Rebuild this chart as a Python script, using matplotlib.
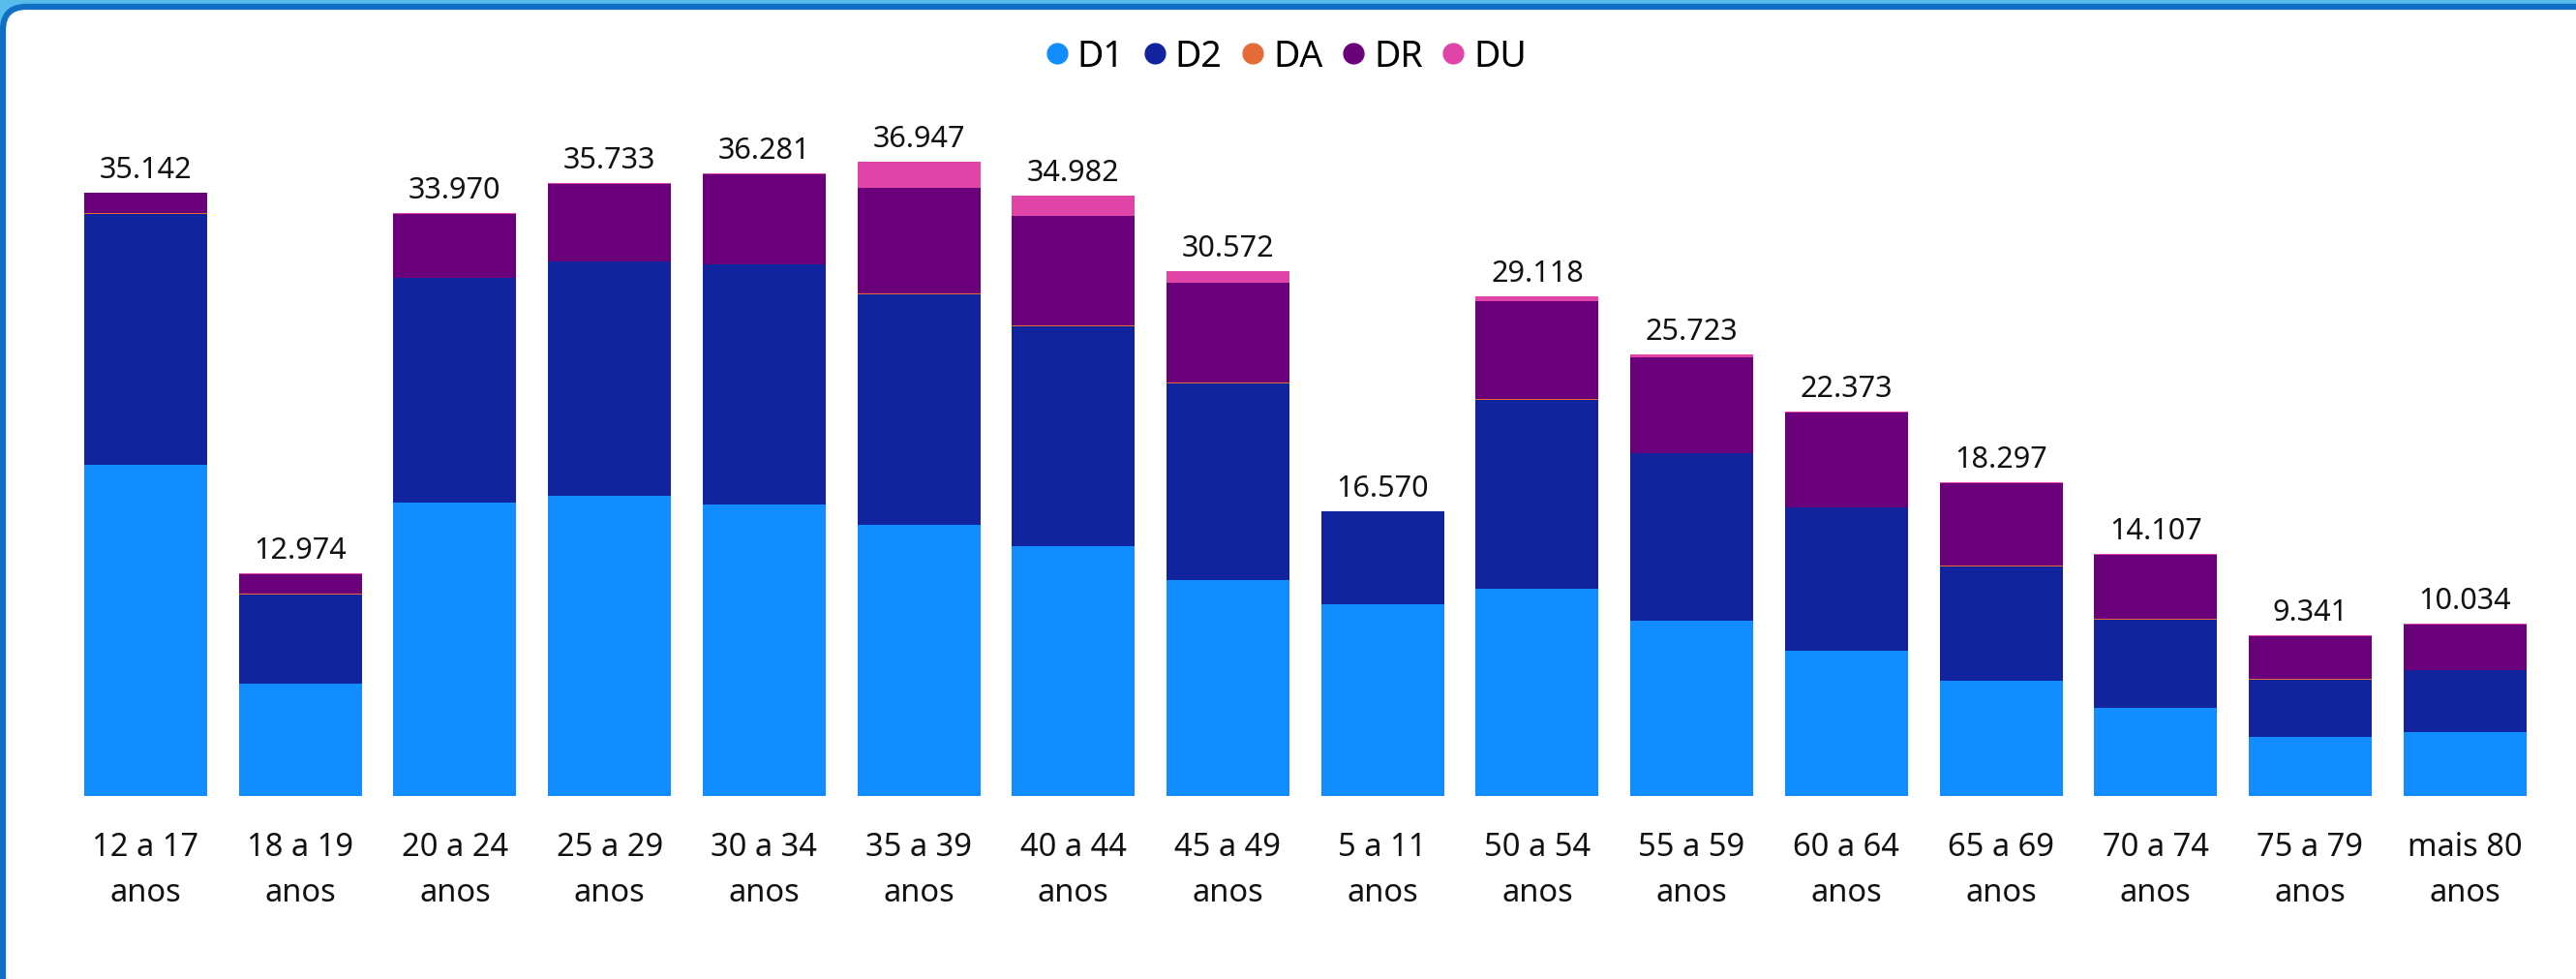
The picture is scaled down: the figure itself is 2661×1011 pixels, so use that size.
import matplotlib
matplotlib.use("Agg")
import matplotlib.pyplot as plt
from matplotlib.lines import Line2D
from matplotlib.patches import FancyBboxPatch, Rectangle
from matplotlib.transforms import IdentityTransform
import numpy as np

plt.rcParams['font.family'] = ['Noto Sans', 'DejaVu Sans']

# Faixas etárias (eixo x)
categories = ["12 a 17 anos", "18 a 19 anos", "20 a 24 anos", "25 a 29 anos",
              "30 a 34 anos", "35 a 39 anos", "40 a 44 anos", "45 a 49 anos",
              "5 a 11 anos", "50 a 54 anos", "55 a 59 anos", "60 a 64 anos",
              "65 a 69 anos", "70 a 74 anos", "75 a 79 anos", "mais 80 anos"]

# Doses por faixa
d1 = [19290, 6550, 17070, 17480, 16975, 15805, 14540, 12575,
      11174, 12070, 10220, 8475, 6728, 5140, 3420, 3750]
d2 = [14610, 5180, 13105, 13690, 13975, 13400, 12805, 11485,
      5396, 11028, 9750, 8350, 6624, 5140, 3345, 3600]
da = [50, 50, 0, 0, 50, 50, 50, 50, 0, 50, 0, 0, 50, 50, 50, 0]
dr = [1192, 1150, 3745, 4513, 5231, 6180, 6400, 5790,
      0, 5700, 5604, 5498, 4845, 3727, 2476, 2634]
du = [0, 44, 50, 50, 50, 1512, 1187, 672, 0, 270, 149, 50, 50, 50, 50, 50]

series = {"D1": d1, "D2": d2, "DA": da, "DR": dr, "DU": du}
colors = {"D1": "#118DFF", "D2": "#12239E", "DA": "#E66C37",
          "DR": "#6B007B", "DU": "#E044A7"}

W, H = 2661, 1012
fig = plt.figure(figsize=(W / 100, H / 100), dpi=100)
fig.patch.set_facecolor("white")

# moldura do painel (faixa azul clara em cima + borda arredondada)
fig.add_artist(Rectangle((0, H - 40), W, 40, transform=IdentityTransform(),
                         facecolor="#56BDEB", edgecolor="none", zorder=-6))
fig.add_artist(FancyBboxPatch((3, -60), W + 100, H - 8 + 60,
                              boxstyle="round,pad=0,rounding_size=24",
                              transform=IdentityTransform(),
                              facecolor="white", edgecolor="#1170C4",
                              linewidth=4.5, zorder=-5))

ax = fig.add_axes([70.65 / W, 189 / H, (2626 - 70.65) / W, 709 / H])
ax.set_facecolor("none")

x = np.arange(len(categories))
bottom = np.zeros(len(categories))
for name, vals in series.items():
    vals = np.array(vals, dtype=float)
    ax.bar(x, vals, width=0.795, bottom=bottom, color=colors[name],
           linewidth=0)
    bottom += vals

totals = bottom
for i, t in enumerate(totals):
    label = f"{int(t):,}".replace(",", ".")
    ax.annotate(label, (x[i], t), xytext=(0, 11.5), textcoords="offset points",
                ha="center", va="baseline", fontsize=22, color="#111111")

ax.set_xlim(-0.5, len(categories) - 0.5)
ax.set_ylim(0, 40000)
tick_labels = [c.rsplit(" ", 1)[0] + "\n" + c.rsplit(" ", 1)[1] for c in categories]
ax.set_xticks(x)
ax.set_xticklabels(tick_labels, fontsize=23.5, color="#111111", linespacing=1.55)
ax.tick_params(axis="x", length=0, pad=26)
ax.set_yticks([])
for s in ax.spines.values():
    s.set_visible(False)

handles = [Line2D([], [], marker="o", linestyle="", markersize=15,
                  color=colors[n]) for n in series]
fig.legend(handles, list(series.keys()), loc="center",
           bbox_to_anchor=(0.499, 0.942), ncol=5, frameon=False, fontsize=27,
           handlelength=0.7, handletextpad=0.2, columnspacing=0.5,
           borderpad=0)

fig.savefig("out.png", dpi=100, facecolor=fig.get_facecolor())
